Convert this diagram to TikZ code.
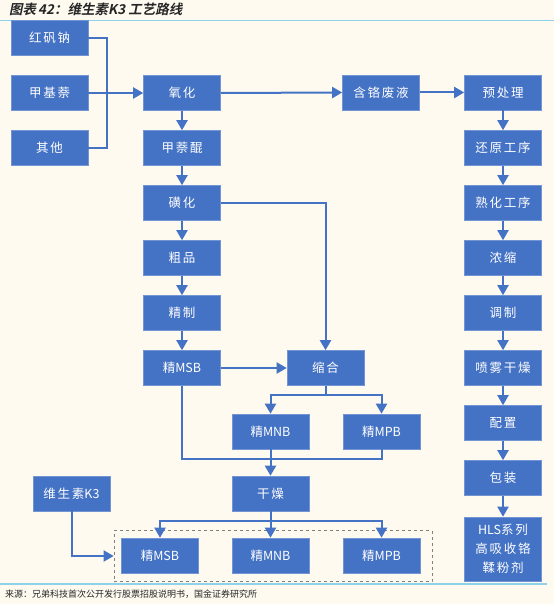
\documentclass[tikz,border=0pt]{standalone}
\usepackage{fontspec}
\setmainfont{Noto Sans CJK SC}
\newfontfamily\boxfont{Noto Sans CJK SC}[LetterSpace=14]
\newfontfamily\latfont{Noto Sans CJK SC}
\newfontfamily\titlefont{Noto Sans CJK SC Bold}[FakeSlant=0.2]
\newcommand{\lat}[1]{{\latfont #1}}
\usetikzlibrary{arrows.meta}
\definecolor{bg}{HTML}{FEFAF0}
\definecolor{bx}{HTML}{4472C4}
\definecolor{rulec}{HTML}{8FD0EA}
\tikzset{
  box/.style={fill=bx, draw=bx!75!white, line width=0.6pt, minimum width=77pt, minimum height=35pt,
    inner sep=1pt, text=white, align=center, font=\boxfont\fontsize{12.5}{19}\selectfont},
  conn/.style={draw=bx, line width=2pt},
  arr/.style={conn, -{Triangle[length=10pt,width=11pt]}},
  grpbox/.style={draw=gray, dashed, line width=0.7pt, minimum width=318pt, minimum height=51pt, inner sep=0pt}
}
\begin{document}
\begin{tikzpicture}[x=1pt,y=-1pt]
\fill[bg] (0,0) rectangle (554,604);
\useasboundingbox (0,0) rectangle (554,604);
% title and rules
\node[anchor=west, inner sep=0pt, text=black!85] (title) at (9,9.5) {\titlefont\fontsize{13.5}{15}\selectfont 图表\hspace{2pt}42：维生素K3 工艺路线};
\draw[rulec, line width=1.3pt] (0,20.5) -- (554,20.5);
\draw[rulec, line width=1.3pt] (0,584) -- (547,584);
\node[anchor=west, inner sep=0pt, text=black!85] (src) at (5,594) {\fontsize{9}{11}\selectfont 来源：兄弟科技首次公开发行股票招股说明书，国金证券研究所};
% left inputs
\node[box] (hfn) at (49.5,38) {红矾钠};
\node[box] (jjn) at (49.5,93) {甲基萘};
\node[box] (qt) at (49.5,148) {其他};
% middle column
\node[box] (yh) at (182,93) {氧化};
\node[box] (jnk) at (182,148) {甲萘醌};
\node[box] (hh) at (182,203) {磺化};
\node[box] (cp) at (182,258) {粗品};
\node[box] (jz) at (182,313) {精制};
\node[box] (msb) at (182,368) {精\lat{MSB}};
\node[box] (sh) at (325.5,368) {缩合};
\node[box] (mnb) at (270.5,431.5) {精\lat{MNB}};
\node[box] (mpb) at (381.5,431.5) {精\lat{MPB}};
\node[box] (gz) at (270.5,493.5) {干燥};
\node[box] (k3) at (71.5,493.5) {维生素\lat{K3}};
\node[grpbox] (grp) at (273,556) {};
\node[box] (bmsb) at (160,555.5) {精\lat{MSB}};
\node[box] (bmnb) at (270.5,555.5) {精\lat{MNB}};
\node[box] (bmpb) at (381.5,555.5) {精\lat{MPB}};
% right branch
\node[box] (fy) at (381,92.5) {含铬废液};
\node[box] (r1) at (503,92.5) {预处理};
\node[box] (r2) at (503,148) {还原工序};
\node[box] (r3) at (503,203) {熟化工序};
\node[box] (r4) at (503,258) {浓缩};
\node[box] (r5) at (503,313) {调制};
\node[box] (r6) at (503,368) {喷雾干燥};
\node[box] (r7) at (503,423) {配置};
\node[box] (r8) at (503,478) {包装};
\node[box, minimum height=64pt] (r9) at (503,549) {\lat{HLS}系列\\高吸收铬\\鞣粉剂};
% connectors
\coordinate (bus1) at (107,38);
\coordinate (bus3) at (107,148);
\draw[conn] (hfn.east) -- (bus1) -- (bus3) -- (qt.east);
\draw[arr] (jjn.east) -- (yh.west);
\draw[arr] (yh.east) -- (fy.west);
\draw[arr] (fy.east) -- (r1.west);
\draw[arr] (yh) -- (jnk);
\draw[arr] (jnk) -- (hh);
\draw[arr] (hh) -- (cp);
\draw[arr] (cp) -- (jz);
\draw[arr] (jz) -- (msb);
\draw[arr] (hh.east) -| (sh.north);
\draw[arr] (msb) -- (sh);
\coordinate (sp) at (325.5,395);
\draw[conn] (sh.south) -- (sp);
\draw[arr] (sp) -| (mnb.north);
\draw[arr] (sp) -| (mpb.north);
\coordinate (mg) at (270.5,459);
\draw[conn] (msb.south) |- (mpb.south |- mg) -- (mpb.south);
\draw[conn] (mnb.south) -- (mg);
\draw[arr] (mg) -- (gz.north);
\coordinate (sp2) at (270.5,521);
\draw[conn] (gz.south) -- (sp2);
\draw[arr] (sp2) -| (bmsb.north);
\draw[arr] (sp2) -| (bmpb.north);
\draw[arr] (sp2) -- (bmnb.north);
\draw[arr] (k3.south) |- (grp.west);
\draw[arr] (r1) -- (r2);
\draw[arr] (r2) -- (r3);
\draw[arr] (r3) -- (r4);
\draw[arr] (r4) -- (r5);
\draw[arr] (r5) -- (r6);
\draw[arr] (r6) -- (r7);
\draw[arr] (r7) -- (r8);
\draw[arr] (r8) -- (r9);
\end{tikzpicture}
\end{document}
